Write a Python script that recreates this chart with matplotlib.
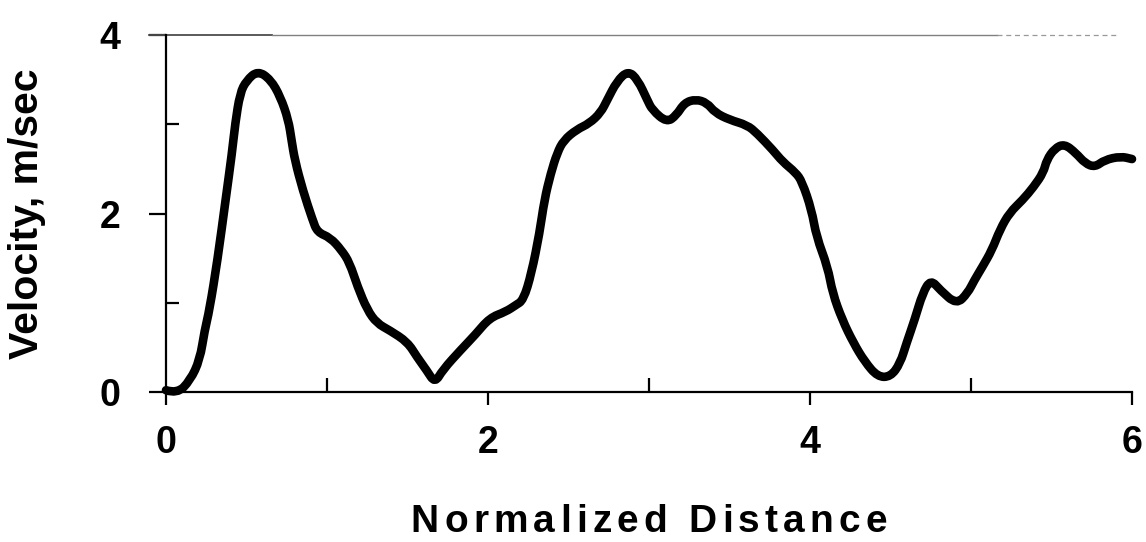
import numpy as np
import matplotlib
matplotlib.use("Agg")
import matplotlib.pyplot as plt
from matplotlib.ticker import FixedLocator
from matplotlib.path import Path
from matplotlib.patches import PathPatch

plt.rcParams['font.family'] = ['Liberation Sans', 'DejaVu Sans']
plt.rcParams['font.weight'] = 'bold'

# velocity profile along the normalized distance
distance = [0.00, 0.07, 0.15, 0.21, 0.24, 0.27, 0.32, 0.37, 0.41, 0.43, 0.46, 0.50,
            0.57, 0.65, 0.71, 0.76, 0.78, 0.80, 0.85, 0.91, 0.94, 1.02, 1.09, 1.14,
            1.19, 1.25, 1.31, 1.39, 1.50, 1.56, 1.62, 1.67, 1.72, 1.83, 1.92, 2.01,
            2.11, 2.17, 2.22, 2.27, 2.32, 2.35, 2.39, 2.43, 2.47, 2.55, 2.63, 2.70,
            2.74, 2.80, 2.87, 2.93, 2.99, 3.02, 3.11, 3.17, 3.22, 3.29, 3.36, 3.41,
            3.50, 3.61, 3.67, 3.77, 3.83, 3.91, 3.95, 4.01, 4.04, 4.11, 4.14, 4.20,
            4.27, 4.34, 4.42, 4.50, 4.56, 4.60, 4.65, 4.70, 4.75, 4.81, 4.91, 4.98,
            5.02, 5.07, 5.13, 5.18, 5.24, 5.32, 5.39, 5.45, 5.47, 5.52, 5.58, 5.65,
            5.71, 5.77, 5.83, 5.93, 6.00]
velocity = [0.02, -0.02, 0.13, 0.36, 0.69, 0.92, 1.48, 2.15, 2.68, 3.01, 3.35, 3.49,
            3.60, 3.50, 3.31, 3.05, 2.82, 2.60, 2.26, 1.93, 1.79, 1.73, 1.59, 1.45,
            1.18, 0.92, 0.77, 0.69, 0.56, 0.39, 0.24, 0.10, 0.25, 0.47, 0.64, 0.83,
            0.90, 0.97, 1.03, 1.33, 1.78, 2.15, 2.45, 2.68, 2.82, 2.94, 3.01, 3.13,
            3.27, 3.48, 3.60, 3.50, 3.27, 3.16, 3.02, 3.10, 3.24, 3.28, 3.24, 3.13,
            3.05, 2.99, 2.90, 2.71, 2.58, 2.46, 2.36, 2.04, 1.74, 1.40, 1.11, 0.81,
            0.55, 0.34, 0.17, 0.17, 0.32, 0.55, 0.81, 1.11, 1.26, 1.14, 0.98, 1.11,
            1.25, 1.40, 1.59, 1.82, 2.01, 2.15, 2.30, 2.46, 2.60, 2.73, 2.78, 2.68,
            2.56, 2.52, 2.60, 2.64, 2.61]

x_major = [0, 2, 4, 6]
x_minor = [1, 3, 5, 6]
y_major = [0, 2, 4]
y_minor = [1, 3]

W, H = 1146, 542
fig = plt.figure(figsize=(W / 100, H / 100), dpi=100)
ax = fig.add_axes([166 / W, 1 - 392 / H, (1132 - 166) / W, (392 - 35) / H])

# smooth trace: quadratic bezier through midpoints, readings as control points
pts = np.column_stack([distance, velocity])
mids = (pts[:-1] + pts[1:]) / 2
verts = [pts[0]]
codes = [Path.MOVETO]
for i in range(1, len(pts) - 1):
    verts += [pts[i], mids[i]]
    codes += [Path.CURVE3, Path.CURVE3]
verts.append(pts[-1])
codes.append(Path.LINETO)
trace = PathPatch(Path(verts, codes), facecolor='none', edgecolor='black', lw=6.2,
                  capstyle='round', joinstyle='round', clip_on=False)
ax.add_patch(trace)

ax.set_xlim(0, 6)
ax.set_ylim(0, 4)

for side in ['top', 'right']:
    ax.spines[side].set_visible(False)
for side in ['left', 'bottom']:
    ax.spines[side].set_linewidth(1.6)

# faint line along the top edge
ax.plot([-0.018, 0.11], [1, 1], transform=ax.transAxes, color='0.3', lw=1.3, clip_on=False)
ax.plot([0.11, 0.86], [1, 1], transform=ax.transAxes, color='0.5', lw=1.0, clip_on=False)
ax.plot([0.86, 0.985], [1, 1], transform=ax.transAxes, color='0.6', lw=0.9,
        ls=(0, (4, 3)), clip_on=False)

ax.xaxis.set_major_locator(FixedLocator(x_major))
ax.xaxis.set_minor_locator(FixedLocator(x_minor))
ax.yaxis.set_major_locator(FixedLocator(y_major))
ax.yaxis.set_minor_locator(FixedLocator(y_minor))
ax.set_xticklabels([str(v) for v in x_major])
ax.set_yticklabels([str(v) for v in y_major])

ax.tick_params(axis='x', which='major', direction='out', length=9, width=1.6,
               pad=15, labelsize=27)
ax.tick_params(axis='x', which='minor', direction='in', length=10, width=1.6)
ax.tick_params(axis='y', which='major', direction='out', length=12.5, width=1.6,
               pad=20, labelsize=27)
ax.tick_params(axis='y', which='minor', direction='in', length=9.5, width=1.6)
for lab in ax.get_xticklabels() + ax.get_yticklabels():
    lab.set_fontweight('bold')

fig.text(27 / W, 1 - 214 / H, 'Velocity, m/sec', rotation=90, fontsize=29.5,
         fontweight='bold', ha='center', va='center')

# x label drawn letter by letter to widen the tracking
label = 'Normalized Distance'
size = 28
fig.canvas.draw()
rend = fig.canvas.get_renderer()
widths = []
for ch in label:
    if ch == ' ':
        widths.append(size * 0.28 * 100 / 72)
        continue
    t = fig.text(0, 0, ch, fontsize=size, fontweight='bold')
    widths.append(t.get_window_extent(rend).width)
    t.remove()
gap = 5.2
total = sum(widths) + gap * (len(label) - 1)
xpos = 649 - total / 2
for ch, w in zip(label, widths):
    if ch != ' ':
        fig.text(xpos / W, 1 - 532 / H, ch, fontsize=size, fontweight='bold',
                 ha='left', va='baseline')
    xpos += w + gap

fig.savefig('out.png', dpi=100)
